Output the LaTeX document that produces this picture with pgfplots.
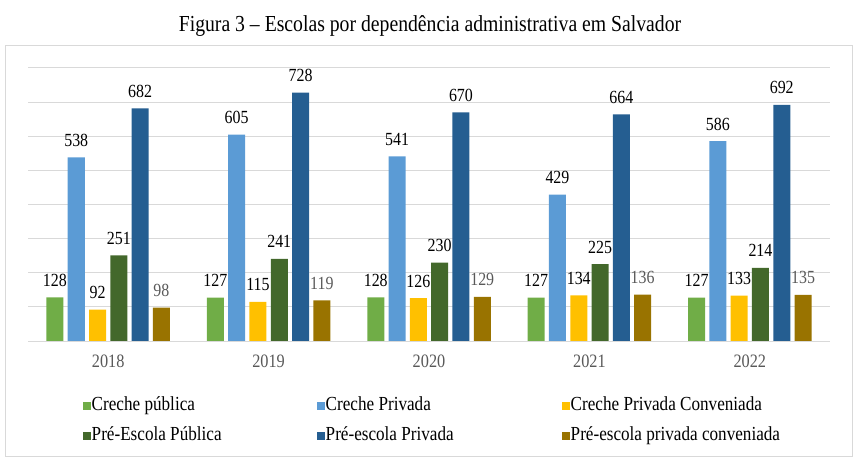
\documentclass[border=0pt]{standalone}
\usepackage{pgfplots}
\pgfplotsset{compat=1.18}
\usepackage{fontspec}
\setmainfont{Liberation Serif}[FakeStretch=0.86]

\definecolor{cpub}{HTML}{70AD47}
\definecolor{cpriv}{HTML}{5B9BD5}
\definecolor{cconv}{HTML}{FFC000}
\definecolor{ppub}{HTML}{43682B}
\definecolor{ppriv}{HTML}{255E91}
\definecolor{pconv}{HTML}{997300}
\definecolor{gridgray}{HTML}{D9D9D9}
\definecolor{labelgray}{HTML}{595959}

% fixed-width legend entries so that the three columns sit at even pitches
\newcommand{\colA}[1]{\makebox[224bp][l]{#1}}
\newcommand{\colB}[1]{\makebox[235bp][l]{#1}}

\begin{document}
\begin{tikzpicture}
\useasboundingbox (0,0) rectangle (861bp,472bp);
\node[font=\fontsize{23}{27}\selectfont, anchor=base, inner sep=0pt] at (430bp,440.5bp) {Figura 3 -- Escolas por dependência administrativa em Salvador};
\draw[gridgray, line width=1bp] (5bp,15bp) rectangle (852bp,426bp);
\begin{axis}[
  at={(28bp,131bp)}, anchor=south west,
  scale only axis, width=802bp, height=273bp,
  xmin=-0.5, xmax=4.5, ymin=0, ymax=800,
  xtick={0,1,2,3,4}, xticklabels={2018,2019,2020,2021,2022},
  ytick={0,100,...,800}, yticklabels={},
  ymajorgrids, grid style={gridgray, line width=1bp},
  axis line style={draw=none}, major tick style={draw=none},
  /pgf/number format/assume math mode=true,
  xticklabel style={font=\fontsize{19}{22}\selectfont, text=labelgray, anchor=base, yshift=-22bp},
  ybar=4.3bp, bar width=17bp,
  nodes near coords,
  every node near coord/.append style={font=\fontsize{18.6}{22}\selectfont, text=black, anchor=base, inner sep=0pt, yshift=11bp},
  legend columns=3,
  legend style={draw=none, fill=none, at={(0.068,-0.2)}, anchor=north west,
    font=\fontsize{20}{23}\selectfont, inner sep=0pt, row sep=10bp,
    nodes={inner sep=1bp, text height=14bp, text depth=4bp}},
  legend cell align=left,
  legend image code/.code={\fill[#1] (0bp,-4bp) rectangle (8bp,4bp);},
]
\addplot[fill=cpub, draw=none] coordinates {(0,128) (1,127) (2,128) (3,127) (4,127)};
\addplot[fill=cpriv, draw=none] coordinates {(0,538) (1,605) (2,541) (3,429) (4,586)};
\addplot[fill=cconv, draw=none] coordinates {(0,92) (1,115) (2,126) (3,134) (4,133)};
\addplot[fill=ppub, draw=none] coordinates {(0,251) (1,241) (2,230) (3,225) (4,214)};
\addplot[fill=ppriv, draw=none] coordinates {(0,682) (1,728) (2,670) (3,664) (4,692)};
\addplot[fill=pconv, draw=none, every node near coord/.append style={text=labelgray}] coordinates {(0,98) (1,119) (2,129) (3,136) (4,135)};
\legend{\colA{Creche pública}, \colB{Creche Privada}, Creche Privada Conveniada, \colA{Pré-Escola Pública}, \colB{Pré-escola Privada}, Pré-escola privada conveniada}
\end{axis}
\end{tikzpicture}
\end{document}
